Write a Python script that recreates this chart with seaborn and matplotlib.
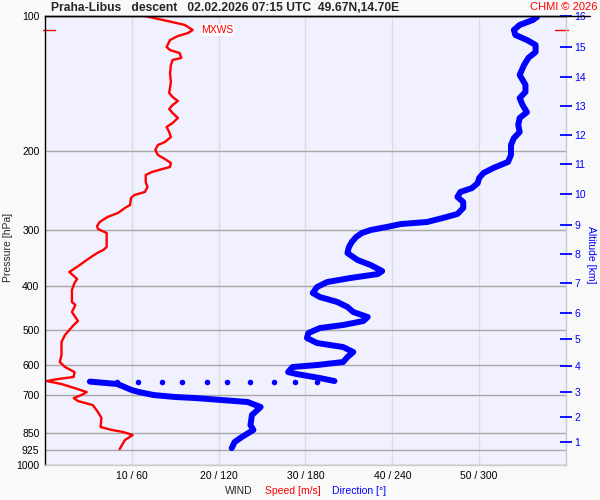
import matplotlib
matplotlib.use("Agg")
import numpy as np
import pandas as pd
import matplotlib.pyplot as plt
import seaborn as sns
from matplotlib.lines import Line2D
from matplotlib.ticker import NullLocator

# wind speed profile (pressure hPa, speed m/s)
speed_p = [100.0, 103.1, 104.7, 107.4, 109.1, 110.8, 113.1, 117.2, 119.1, 120.9, 124.0, 125.3, 128.6, 133.9,
           140.3, 148.4, 151.5, 154.7, 157.8, 161.1, 164.5, 168.7, 173.1, 176.7, 181.3, 186.0, 190.9, 193.8,
           198.8, 203.9, 208.2, 212.5, 216.9, 219.2, 222.6, 226.0, 234.3, 240.4, 246.6, 250.4, 254.3, 263.6,
           267.7, 274.6, 280.3, 287.6, 293.6, 298.1, 304.3, 327.0, 332.1, 337.2, 349.5, 358.6, 371.7, 377.5,
           385.3, 393.3, 407.6, 433.5, 440.3, 456.3, 477.9, 487.8, 513.4, 532.2, 568.9, 589.7, 605.0, 620.9,
           636.8, 643.4, 650.1, 660.2, 674.0, 687.9, 698.5, 709.4, 720.4, 735.4, 762.3, 786.0, 823.1, 835.6,
           844.3, 857.6, 880.0, 907.5, 921.5]
speed_ms = [11.5, 14.6, 16.1, 17.0, 16.5, 15.3, 14.4, 14.0, 14.4, 15.5, 15.7, 14.7, 14.5, 14.4,
            14.5, 14.3, 14.7, 15.3, 14.7, 14.3, 14.7, 15.3, 14.7, 14.0, 14.3, 14.5, 13.8, 13.0,
            12.7, 13.0, 13.8, 14.5, 14.4, 13.5, 12.3, 11.6, 11.6, 11.8, 11.5, 10.3, 9.9, 9.8,
            9.2, 8.4, 7.2, 6.3, 6.0, 6.1, 7.1, 7.1, 6.7, 6.0, 4.8, 4.0, 2.8, 3.2,
            3.7, 3.4, 3.1, 3.1, 3.5, 3.1, 3.8, 3.3, 2.3, 1.9, 1.9, 1.7, 2.3, 3.4,
            3.3, 1.5, 0.2, 1.9, 3.4, 4.8, 4.2, 3.3, 3.8, 5.5, 6.1, 6.5, 6.4, 7.7,
            9.0, 10.1, 9.2, 8.8, 8.6]

# wind direction profile, upper part (pressure hPa, direction deg)
dir_upper_p = [100.5, 102.1, 104.7, 107.4, 110.2, 113.1, 116.0, 120.3, 124.0, 128.6, 135.3, 142.3, 147.6, 152.3,
               157.8, 163.8, 168.7, 174.8, 181.3, 187.0, 193.8, 203.9, 211.3, 217.9, 223.7, 229.5, 235.6, 241.7,
               246.6, 253.0, 259.6, 267.7, 276.0, 281.7, 287.6, 290.6, 295.1, 299.7, 304.3, 310.6, 318.7, 327.0,
               337.2, 349.5, 358.6, 369.9, 375.6, 383.3, 391.3, 401.4, 414.0, 422.6, 433.5, 444.7, 456.3, 468.2,
               477.9, 487.8, 495.4, 508.2, 521.4, 535.0, 546.1, 560.3, 574.8, 589.7, 598.9, 605.0, 620.9, 627.3,
               640.3, 650.1]
dir_upper_deg = [340, 337, 328, 324, 325, 333, 339, 339, 334, 331, 328, 332, 332, 328,
                 330, 333, 328, 327, 328, 324, 322, 322, 320, 310, 303, 300, 299, 295,
                 287, 285, 289, 289, 285, 275, 264, 246, 236, 225, 219, 215, 212, 210,
                 209, 216, 225, 233, 230, 211, 195, 188, 185, 190, 202, 209, 213, 223,
                 220, 206, 190, 182, 181, 188, 206, 213, 209, 206, 188, 171, 168, 174,
                 190, 200]

# isolated direction points near 650 hPa
dir_dots_p = [653] * 10
dir_dots_deg = [50, 64, 81, 95, 112, 126, 142, 158, 173, 188]

# wind direction, lower part
dir_lower_p = [652, 660.2, 681.0, 687.9, 698.5, 705.6, 709.4, 716.6, 724.0, 742.8, 774.0, 814.7, 835.6, 866.4,
               888.9, 917.0]
dir_lower_deg = [31, 50, 60, 65, 75, 90, 104, 122, 140, 149, 143, 142, 144, 136, 131, 129]

pressure_ticks = [100, 200, 300, 400, 500, 600, 700, 850, 925, 1000]
speed_ticks = [10, 20, 30, 40, 50]
speed_tick_labels = ["10 / 60", "20 / 120", "30 / 180", "40 / 240", "50 / 300"]
alt_km = list(range(1, 17))
alt_p = [888.9, 782.0, 687.9, 602.0, 524.1, 458.7, 393.3, 338.9, 292.1, 249.1, 213.6, 184.1, 158.7, 136.7,
         117.2, 99.8]
mxws_p = 107.4

df_speed = pd.DataFrame({"p": speed_p, "speed": speed_ms})
df_up = pd.DataFrame({"p": dir_upper_p, "dir": dir_upper_deg})
df_low = pd.DataFrame({"p": dir_lower_p, "dir": dir_lower_deg})
df_dots = pd.DataFrame({"p": dir_dots_p, "dir": dir_dots_deg})

sns.set_style("white")
plt.rcParams["font.family"] = ["Liberation Sans", "DejaVu Sans"]

fig = plt.figure(figsize=(6, 5), dpi=100, facecolor="#F9F9F9")
ax = fig.add_axes([0.075, 0.07, 0.8683, 0.898])
ax.set_facecolor("#F0F0FF")

ax.set_yscale("log")
ax.set_ylim(1000, 100)
ax.set_xlim(0, 60)
ax.yaxis.set_minor_locator(NullLocator())
ax.set_yticks(pressure_ticks)
ax.set_yticklabels([str(p) for p in pressure_ticks], fontsize=7.5)
ax.set_xticks(speed_ticks)
ax.set_xticklabels(speed_tick_labels, fontsize=7.5)
ax.tick_params(axis="both", length=0, pad=4, colors="black")
ax.grid(axis="y", color="#A8A8A8", lw=1)
ax.grid(axis="x", color="#DCDCDC", lw=1)
ax.set_axisbelow(True)
for s in ["top", "left"]:
    ax.spines[s].set_color("black")
    ax.spines[s].set_linewidth(1)
for s in ["right", "bottom"]:
    ax.spines[s].set_color("#CCCCCC")
    ax.spines[s].set_linewidth(1)

sns.lineplot(data=df_speed, x="speed", y="p", sort=False, estimator=None, color="red", lw=1.7,
             solid_joinstyle="round", ax=ax)
ax.set_xlabel("")
ax.set_ylabel("")

# direction on a twin x axis (0-360 deg)
ax2 = ax.twiny()
ax2.set_xlim(0, 360)
ax2.set_xticks([])
for s in ax2.spines.values():
    s.set_visible(False)
sns.lineplot(data=df_up, x="dir", y="p", sort=False, estimator=None, color="#0000FF", lw=4.3,
             solid_capstyle="round", solid_joinstyle="round", ax=ax2)
sns.lineplot(data=df_low, x="dir", y="p", sort=False, estimator=None, color="#0000FF", lw=4.3,
             solid_capstyle="round", solid_joinstyle="round", ax=ax2)
sns.scatterplot(data=df_dots, x="dir", y="p", color="#0000FF", s=16, linewidth=0, ax=ax2)
ax2.set_xlabel("")
ax2.set_ylabel("")
ax2.set_xlim(0, 360)
ax2.set_ylim(1000, 100)

# altitude axis on the right
ax3 = ax.twinx()
ax3.set_yscale("log")
ax3.set_ylim(1000, 100)
ax3.yaxis.set_minor_locator(NullLocator())
ax3.set_yticks(alt_p)
ax3.set_yticklabels([str(k) for k in alt_km], fontsize=7.5, color="#0000FF")
ax3.tick_params(axis="y", direction="inout", length=8, width=1.3, color="#0000FF", pad=2)
for s in ax3.spines.values():
    s.set_visible(False)

# MXWS markers
ax.plot([-0.004, 0.019], [mxws_p, mxws_p], color="red", lw=1, transform=ax.get_yaxis_transform(), clip_on=False)
ax.plot([0.979, 1.004], [mxws_p, mxws_p], color="red", lw=1, transform=ax.get_yaxis_transform(), clip_on=False)
ax.text(18.0, mxws_p, "MXWS", color="red", fontsize=7.5, va="center", ha="left",
        bbox=dict(facecolor="white", edgecolor="none", pad=0.5))

# top line and texts
fig.add_artist(Line2D([0.075, 0.983], [0.969, 0.969], color="black", lw=1))
fig.text(0.085, 0.984, "Praha-Libus   descent   02.02.2026 07:15 UTC  49.67N,14.70E",
         fontsize=8.7, fontweight="bold", va="center", ha="left")
fig.text(0.995, 0.986, "CHMI \u00a9 2026", fontsize=8, color="red", va="center", ha="right")
fig.text(0.013, 0.505, "Pressure [hPa]", fontsize=7.5, rotation=90, va="center", ha="center")
fig.text(0.985, 0.49, "Altitude [km]", fontsize=7.5, rotation=-90, va="center", ha="center", color="#0000FF")
fig.text(0.375, 0.018, "WIND", fontsize=7.5, va="center", ha="left")
fig.text(0.441, 0.018, "Speed [m/s]", fontsize=7.5, va="center", ha="left", color="red")
fig.text(0.553, 0.018, "Direction [\u00b0]", fontsize=7.5, va="center", ha="left", color="#0000FF")

fig.savefig("out.png", dpi=100, facecolor=fig.get_facecolor())
